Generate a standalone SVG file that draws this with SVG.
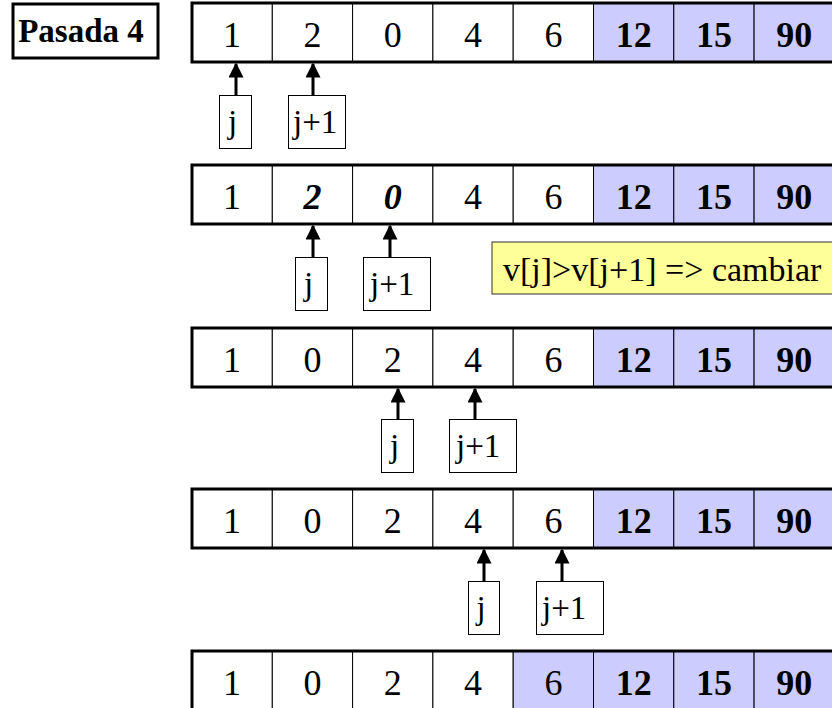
<svg xmlns="http://www.w3.org/2000/svg" width="832" height="708" viewBox="0 0 832 708">
<defs>
<style>
.cell{fill:#fff;stroke:#000;stroke-width:1}
.hl{fill:#ccccff;stroke:#000;stroke-width:1}
.outer{fill:none;stroke:#000;stroke-width:3}
.num{font-family:'Liberation Serif','Times New Roman',serif;font-size:36px;text-anchor:middle;fill:#000}
.b{font-weight:bold}
.bi{font-weight:bold;font-style:italic}
.lbl{fill:#fff;stroke:#000;stroke-width:1}
.lt{font-family:'Liberation Serif','Times New Roman',serif;font-size:33px;fill:#000}
.arr{stroke:#000;stroke-width:3;fill:none;marker-end:url(#ah)}
</style>
<marker id="ah" viewBox="0 0 10 10" refX="9" refY="5" markerWidth="5" markerHeight="5" markerUnits="strokeWidth" orient="auto">
<path d="M0,0 L10,5 L0,10 z" fill="#000"/>
</marker>
</defs>
<rect width="832" height="708" fill="#fff"/>

<g id="pasada">
<rect x="13" y="4" width="145" height="54" fill="#fff" stroke="#000" stroke-width="3"/>
<text x="81" y="42" font-family="'Liberation Serif','Times New Roman',serif" font-size="33" font-weight="bold" text-anchor="middle">Pasada 4</text>
</g>

<g id="row1">
<rect class="cell" x="192" y="3" width="80.3" height="59"/>
<rect class="cell" x="272.3" y="3" width="80.3" height="59"/>
<rect class="cell" x="352.6" y="3" width="80.3" height="59"/>
<rect class="cell" x="432.9" y="3" width="80.3" height="59"/>
<rect class="cell" x="513.2" y="3" width="80.3" height="59"/>
<rect class="hl" x="593.5" y="3" width="80.3" height="59"/>
<rect class="hl" x="673.8" y="3" width="80.3" height="59"/>
<rect class="hl" x="754.1" y="3" width="80.3" height="59"/>
<rect class="outer" x="192" y="3" width="642.4" height="59"/>
<text class="num" x="232" y="47">1</text>
<text class="num" x="312.5" y="47">2</text>
<text class="num" x="392.8" y="47">0</text>
<text class="num" x="473" y="47">4</text>
<text class="num" x="553.4" y="47">6</text>
<text class="num b" x="633.7" y="47">12</text>
<text class="num b" x="714" y="47">15</text>
<text class="num b" x="794.3" y="47">90</text>
</g>

<g id="row2">
<rect class="cell" x="192" y="165" width="80.3" height="59"/>
<rect class="cell" x="272.3" y="165" width="80.3" height="59"/>
<rect class="cell" x="352.6" y="165" width="80.3" height="59"/>
<rect class="cell" x="432.9" y="165" width="80.3" height="59"/>
<rect class="cell" x="513.2" y="165" width="80.3" height="59"/>
<rect class="hl" x="593.5" y="165" width="80.3" height="59"/>
<rect class="hl" x="673.8" y="165" width="80.3" height="59"/>
<rect class="hl" x="754.1" y="165" width="80.3" height="59"/>
<rect class="outer" x="192" y="165" width="642.4" height="59"/>
<text class="num" x="232" y="209">1</text>
<text class="num bi" x="312.5" y="209">2</text>
<text class="num bi" x="392.8" y="209">0</text>
<text class="num" x="473" y="209">4</text>
<text class="num" x="553.4" y="209">6</text>
<text class="num b" x="633.7" y="209">12</text>
<text class="num b" x="714" y="209">15</text>
<text class="num b" x="794.3" y="209">90</text>
</g>

<g id="row3">
<rect class="cell" x="192" y="328" width="80.3" height="59"/>
<rect class="cell" x="272.3" y="328" width="80.3" height="59"/>
<rect class="cell" x="352.6" y="328" width="80.3" height="59"/>
<rect class="cell" x="432.9" y="328" width="80.3" height="59"/>
<rect class="cell" x="513.2" y="328" width="80.3" height="59"/>
<rect class="hl" x="593.5" y="328" width="80.3" height="59"/>
<rect class="hl" x="673.8" y="328" width="80.3" height="59"/>
<rect class="hl" x="754.1" y="328" width="80.3" height="59"/>
<rect class="outer" x="192" y="328" width="642.4" height="59"/>
<text class="num" x="232" y="372">1</text>
<text class="num" x="312.5" y="372">0</text>
<text class="num" x="392.8" y="372">2</text>
<text class="num" x="473" y="372">4</text>
<text class="num" x="553.4" y="372">6</text>
<text class="num b" x="633.7" y="372">12</text>
<text class="num b" x="714" y="372">15</text>
<text class="num b" x="794.3" y="372">90</text>
</g>

<g id="row4">
<rect class="cell" x="192" y="489" width="80.3" height="59"/>
<rect class="cell" x="272.3" y="489" width="80.3" height="59"/>
<rect class="cell" x="352.6" y="489" width="80.3" height="59"/>
<rect class="cell" x="432.9" y="489" width="80.3" height="59"/>
<rect class="cell" x="513.2" y="489" width="80.3" height="59"/>
<rect class="hl" x="593.5" y="489" width="80.3" height="59"/>
<rect class="hl" x="673.8" y="489" width="80.3" height="59"/>
<rect class="hl" x="754.1" y="489" width="80.3" height="59"/>
<rect class="outer" x="192" y="489" width="642.4" height="59"/>
<text class="num" x="232" y="533">1</text>
<text class="num" x="312.5" y="533">0</text>
<text class="num" x="392.8" y="533">2</text>
<text class="num" x="473" y="533">4</text>
<text class="num" x="553.4" y="533">6</text>
<text class="num b" x="633.7" y="533">12</text>
<text class="num b" x="714" y="533">15</text>
<text class="num b" x="794.3" y="533">90</text>
</g>

<g id="row5">
<rect class="cell" x="192" y="651" width="80.3" height="59"/>
<rect class="cell" x="272.3" y="651" width="80.3" height="59"/>
<rect class="cell" x="352.6" y="651" width="80.3" height="59"/>
<rect class="cell" x="432.9" y="651" width="80.3" height="59"/>
<rect class="hl" x="513.2" y="651" width="80.3" height="59"/>
<rect class="hl" x="593.5" y="651" width="80.3" height="59"/>
<rect class="hl" x="673.8" y="651" width="80.3" height="59"/>
<rect class="hl" x="754.1" y="651" width="80.3" height="59"/>
<rect class="outer" x="192" y="651" width="642.4" height="59"/>
<text class="num" x="232" y="695">1</text>
<text class="num" x="312.5" y="695">0</text>
<text class="num" x="392.8" y="695">2</text>
<text class="num" x="473" y="695">4</text>
<text class="num" x="553.4" y="695">6</text>
<text class="num b" x="633.7" y="695">12</text>
<text class="num b" x="714" y="695">15</text>
<text class="num b" x="794.3" y="695">90</text>
</g>

<g id="note">
<rect x="492" y="242" width="345" height="52" fill="#ffff99" stroke="#333" stroke-width="1"/>
<text x="503" y="281" font-family="'Liberation Serif','Times New Roman',serif" font-size="34">v[j]&gt;v[j+1] =&gt; cambiar</text>
</g>

<g id="labels">
<rect class="lbl" x="219.5" y="95.5" width="32" height="53"/>
<text class="lt" x="228" y="133">j</text>
<rect class="lbl" x="288.5" y="95.5" width="57" height="53"/>
<text class="lt" x="293" y="133">j+1</text>

<rect class="lbl" x="295.5" y="257.5" width="32" height="53"/>
<text class="lt" x="304" y="295">j</text>
<rect class="lbl" x="363.5" y="257.5" width="67" height="53"/>
<text class="lt" x="370" y="295">j+1</text>

<rect class="lbl" x="381.5" y="419.5" width="32" height="53"/>
<text class="lt" x="390" y="457">j</text>
<rect class="lbl" x="449.5" y="419.5" width="67" height="53"/>
<text class="lt" x="456" y="457">j+1</text>

<rect class="lbl" x="468.5" y="581.5" width="31" height="53"/>
<text class="lt" x="476.5" y="619">j</text>
<rect class="lbl" x="536.5" y="581.5" width="67" height="53"/>
<text class="lt" x="542" y="619">j+1</text>
</g>

<g id="connectors">
<line class="arr" x1="236" y1="95" x2="236" y2="64"/>
<line class="arr" x1="313" y1="95" x2="313" y2="64"/>
<line class="arr" x1="313" y1="257" x2="313" y2="226"/>
<line class="arr" x1="390" y1="257" x2="390" y2="226"/>
<line class="arr" x1="398" y1="419" x2="398" y2="389"/>
<line class="arr" x1="475" y1="419" x2="475" y2="389"/>
<line class="arr" x1="484" y1="581" x2="484" y2="550"/>
<line class="arr" x1="562" y1="581" x2="562" y2="550"/>
</g>
</svg>
